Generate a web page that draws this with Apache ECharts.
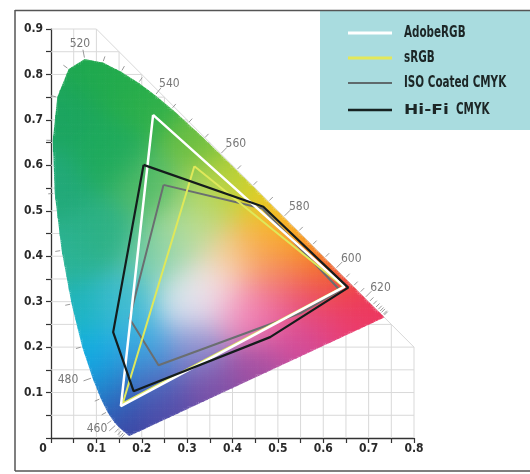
<!DOCTYPE html>
<html><head><meta charset="utf-8">
<script src="https://cdn.jsdelivr.net/npm/echarts@6/dist/echarts.min.js"></script>
<style>html,body{margin:0;padding:0;background:#fff}#c{width:530px;height:474px}</style>
</head><body><div id="c"></div>
<script>
// CIE 1931 spectral locus (wavelength nm, x, y)
const locusNm = [380,385,390,395,400,405,410,415,420,425,430,435,440,445,450,455,460,465,470,475,480,485,490,495,500,505,510,515,520,525,530,535,540,545,550,555,560,565,570,575,580,585,590,595,600,605,610,615,620,625,630,635,640,645,650,655,660,665,670,680,690,700];
const locusX = [0.1741,0.1740,0.1738,0.1736,0.1733,0.1730,0.1726,0.1721,0.1714,0.1703,0.1689,0.1669,0.1644,0.1611,0.1566,0.1510,0.1440,0.1355,0.1241,0.1096,0.0913,0.0687,0.0454,0.0235,0.0082,0.0039,0.0139,0.0389,0.0743,0.1142,0.1547,0.1929,0.2296,0.2658,0.3016,0.3373,0.3731,0.4087,0.4441,0.4788,0.5125,0.5448,0.5752,0.6029,0.6270,0.6482,0.6658,0.6801,0.6915,0.7006,0.7079,0.7140,0.7190,0.7230,0.7260,0.7283,0.7300,0.7311,0.7320,0.7334,0.7344,0.7347];
const locusY = [0.0050,0.0050,0.0049,0.0049,0.0048,0.0048,0.0048,0.0048,0.0051,0.0058,0.0069,0.0086,0.0109,0.0138,0.0177,0.0227,0.0297,0.0399,0.0578,0.0868,0.1327,0.2007,0.2950,0.4127,0.5384,0.6548,0.7502,0.8120,0.8338,0.8262,0.8059,0.7816,0.7543,0.7243,0.6923,0.6589,0.6245,0.5896,0.5547,0.5202,0.4866,0.4544,0.4242,0.3965,0.3725,0.3514,0.3340,0.3197,0.3083,0.2993,0.2920,0.2859,0.2809,0.2770,0.2740,0.2717,0.2700,0.2689,0.2680,0.2666,0.2656,0.2653];
const labelNm = [460,480,520,540,560,580,600,620];
const tickNm = [440,445,450,455,460,465,470,475,480,485,490,495,500,505,510,515,520,525,530,535,540,545,550,555,560,565,570,575,580,585,590,595,600,605,610,615,620,625,630,635,640,645,650,660,670];

// gamuts (x, y), closed
const seriesNames = ['AdobeRGB','sRGB','ISO Coated CMYK','Hi-Fi CMYK'];
const adobeX = [0.225,0.647,0.154,0.225];
const adobeY = [0.711,0.333,0.070,0.711];
const srgbX = [0.316,0.645,0.158,0.316];
const srgbY = [0.598,0.333,0.076,0.598];
const isoX = [0.248,0.466,0.637,0.550,0.237,0.173,0.248];
const isoY = [0.557,0.505,0.325,0.275,0.160,0.263,0.557];
const hifiX = [0.204,0.468,0.655,0.483,0.182,0.137,0.204];
const hifiY = [0.601,0.509,0.331,0.222,0.103,0.233,0.601];

const xTickLabels = ['0','0.1','0.2','0.3','0.4','0.5','0.6','0.7','0.8'];
const yTickLabels = ['','0.1','0.2','0.3','0.4','0.5','0.6','0.7','0.8','0.9'];

// ---- colour field styling ----
const colorAnchors = [
 [0.07,0.83,'#1fa84f'],[0.02,0.72,'#1ca560'],[0.005,0.55,'#22a979'],[0.03,0.40,'#2cb394'],
 [0.05,0.28,'#1fb5bf'],[0.08,0.18,'#12b0e6'],[0.11,0.11,'#1b8fd4'],[0.14,0.05,'#3158b3'],
 [0.175,0.006,'#40409e'],[0.25,0.05,'#5448a6'],[0.35,0.10,'#7a4ea6'],[0.45,0.15,'#a04ea2'],
 [0.55,0.21,'#cf4b9b'],[0.65,0.25,'#e8407f'],[0.73,0.268,'#ec3464'],[0.69,0.30,'#ee3a4e'],
 [0.63,0.36,'#f15a2b'],[0.58,0.41,'#f7901e'],[0.52,0.47,'#fbb51a'],[0.46,0.53,'#e6d31e'],
 [0.40,0.58,'#b3cf33'],[0.33,0.66,'#6cbf43'],[0.23,0.75,'#2fb04b'],[0.15,0.80,'#22ab4d'],
 [0.13,0.62,'#1eaa5c'],[0.12,0.45,'#2cb184'],[0.17,0.30,'#3fbcd0'],[0.20,0.20,'#3aaee6'],
 [0.22,0.12,'#4d6cc0'],[0.32,0.20,'#8b8fd0'],[0.30,0.30,'#dce9f2'],[0.35,0.33,'#f7e6ee'],
 [0.42,0.28,'#f49ac4'],[0.48,0.27,'#ee68a6'],[0.57,0.30,'#ec4870'],[0.50,0.36,'#f3826a'],
 [0.40,0.40,'#f9d09a'],[0.47,0.43,'#f8a843'],[0.30,0.45,'#b9df9f'],[0.24,0.40,'#7fcfa8'],
 [0.22,0.55,'#58bd6a'],[0.35,0.52,'#b5d86a']
];
const anc = colorAnchors.map(a => {
  const h = a[2];
  return [a[0], a[1], parseInt(h.substr(1,2),16), parseInt(h.substr(3,2),16), parseInt(h.substr(5,2),16)];
});
function fieldColor(x, y) {
  let sw = 0, r = 0, g = 0, b = 0;
  const s2 = 2 * 0.05 * 0.05;
  for (const a of anc) {
    const dx = x - a[0], dy = y - a[1];
    const w = Math.exp(-(dx*dx + dy*dy) / s2) + 1e-12;
    sw += w; r += w * a[2]; g += w * a[3]; b += w * a[4];
  }
  return 'rgb(' + Math.round(r/sw) + ',' + Math.round(g/sw) + ',' + Math.round(b/sw) + ')';
}

// convex hull of locus
function hull(pts) {
  pts = pts.slice().sort((a,b) => a[0]-b[0] || a[1]-b[1]);
  const cr = (o,a,b) => (a[0]-o[0])*(b[1]-o[1]) - (a[1]-o[1])*(b[0]-o[0]);
  const lo = [], up = [];
  for (const p of pts) { while (lo.length >= 2 && cr(lo[lo.length-2], lo[lo.length-1], p) <= 0) lo.pop(); lo.push(p); }
  for (let i = pts.length-1; i >= 0; i--) { const p = pts[i]; while (up.length >= 2 && cr(up[up.length-2], up[up.length-1], p) <= 0) up.pop(); up.push(p); }
  up.pop(); lo.pop();
  return lo.concat(up);
}
const H = hull(locusX.map((x,i) => [x, locusY[i]]));
function inside(p) {
  for (let i = 0; i < H.length; i++) {
    const a = H[i], b = H[(i+1) % H.length];
    if ((b[0]-a[0])*(p[1]-a[1]) - (b[1]-a[1])*(p[0]-a[0]) < 0) return false;
  }
  return true;
}
function clipPoly(subject) {
  let out = subject;
  for (let i = 0; i < H.length && out.length; i++) {
    const a = H[i], b = H[(i+1) % H.length];
    const side = p => (b[0]-a[0])*(p[1]-a[1]) - (b[1]-a[1])*(p[0]-a[0]);
    const inp = out; out = [];
    for (let j = 0; j < inp.length; j++) {
      const P = inp[j], Q = inp[(j+1) % inp.length];
      const sp = side(P), sq = side(Q);
      if (sp >= 0) {
        out.push(P);
        if (sq < 0) { const t = sp/(sp-sq); out.push([P[0]+t*(Q[0]-P[0]), P[1]+t*(Q[1]-P[1])]); }
      } else if (sq >= 0) { const t = sp/(sp-sq); out.push([P[0]+t*(Q[0]-P[0]), P[1]+t*(Q[1]-P[1])]); }
    }
  }
  return out;
}
const STEP = 0.005;
const cells = [];
for (let i = 0; i < 150; i++) {
  for (let j = 0; j < 170; j++) {
    const x0 = i*STEP, y0 = j*STEP, x1 = x0+STEP, y1 = y0+STEP;
    const rect = [[x0,y0],[x1,y0],[x1,y1],[x0,y1]];
    let poly, full = false;
    if (rect.every(inside)) { poly = rect; full = true; }
    else { poly = clipPoly(rect); if (poly.length < 3) continue; }
    const cx = Math.max(0.004, Math.min(0.734, x0 + STEP/2)), cy = y0 + STEP/2;
    cells.push({poly, full, x0, y0, x1, y1, col: fieldColor(cx, cy), cx: x0+STEP/2, cy: y0+STEP/2});
  }
}

// light grid (0.05) within region bounded by x+y=1
const gridSegs = [];
for (let k = 1; k <= 16; k++) { const x = k*0.05; gridSegs.push([x, 0, x, Math.min(0.9, 1-x)]); }
for (let k = 1; k <= 18; k++) { const y = k*0.05; gridSegs.push([0, y, Math.min(0.8, 1-y), y]); }
gridSegs.push([0.1, 0.9, 0.8, 0.2]);

const FONT = "'DejaVu Sans Condensed','Liberation Sans Narrow',sans-serif";
const pair = (xs, ys) => xs.map((x,i) => [x, ys[i]]);

// legend (keys drawn as graphic)
const legendColors = ['#ffffff','#e3e85a','#5f6a6c','#172222'];
const legendWidths = [3, 3, 2, 2.5];
const legendRowsY = [33, 58, 83, 110];
const legendGraphics = [];
seriesNames.forEach((n, i) => {
  const y = legendRowsY[i];
  legendGraphics.push({type: 'line', shape: {x1: 348, y1: y, x2: 392, y2: y}, style: {stroke: legendColors[i], lineWidth: legendWidths[i]}, z: 5});
  if (n === 'Hi-Fi CMYK') {
    legendGraphics.push({type: 'text', x: 404, y: y, scaleX: 1.22, z: 5, style: {text: 'Hi-Fi', fill: '#1c2626', fontSize: 14, fontWeight: 'bold', fontFamily: "'DejaVu Sans',sans-serif", verticalAlign: 'middle', align: 'left'}});
    legendGraphics.push({type: 'text', x: 456, y: y, scaleX: 0.77, z: 5, style: {text: 'CMYK', fill: '#1c2626', fontSize: 15, fontWeight: 'bold', fontFamily: FONT, verticalAlign: 'middle', align: 'left'}});
  } else {
    legendGraphics.push({type: 'text', x: 404, y: y, scaleX: 0.77, z: 5, style: {text: n, fill: '#1c2626', fontSize: 15, fontWeight: 'bold', fontFamily: FONT, verticalAlign: 'middle', align: 'left'}});
  }
});

const chart = echarts.init(document.getElementById('c'));
chart.setOption({
  animation: false,
  backgroundColor: '#fff',
  grid: {left: 51, right: 116, top: 29, bottom: 36},
  xAxis: {
    type: 'value', min: 0, max: 0.8, interval: 0.1,
    splitLine: {show: false},
    axisLine: {show: true, onZero: false, lineStyle: {color: '#333', width: 1.3}},
    axisTick: {show: true, length: 5, lineStyle: {color: '#333', width: 1.2}},
    minorTick: {show: true, splitNumber: 2, length: 5, lineStyle: {color: '#333', width: 1.2}},
    axisLabel: {
      margin: 5, color: '#2a2a2a', fontSize: 12, fontWeight: 'bold', fontFamily: FONT,
      formatter: v => { const i = Math.round(v*10); return i === 0 ? '{z|' + xTickLabels[0] + '}' : xTickLabels[i]; },
      rich: {z: {padding: [0, 16, 0, 0], fontSize: 12, fontWeight: 'bold', fontFamily: FONT, color: '#2a2a2a'}}
    }
  },
  yAxis: {
    type: 'value', min: 0, max: 0.9, interval: 0.1,
    splitLine: {show: false},
    axisLine: {show: true, onZero: false, lineStyle: {color: '#333', width: 1.3}},
    axisTick: {show: true, length: 5, lineStyle: {color: '#333', width: 1.2}},
    minorTick: {show: true, splitNumber: 2, length: 5, lineStyle: {color: '#333', width: 1.2}},
    axisLabel: {
      margin: 8, color: '#2a2a2a', fontSize: 12, fontWeight: 'bold', fontFamily: FONT,
      formatter: v => yTickLabels[Math.round(v*10)]
    }
  },
  graphic: [
    {type: 'rect', left: 320, top: 11, shape: {width: 210, height: 119}, style: {fill: '#a9dcdf'}, z: 0, silent: true},
    {type: 'line', shape: {x1: 15, y1: 10.5, x2: 530, y2: 10.5}, style: {stroke: '#555', lineWidth: 1.5}, z: 0},
    {type: 'line', shape: {x1: 15, y1: 10, x2: 15, y2: 471}, style: {stroke: '#555', lineWidth: 1.5}, z: 0},
    {type: 'line', shape: {x1: 15, y1: 471, x2: 530, y2: 471}, style: {stroke: '#555', lineWidth: 1.5}, z: 0}
  ].concat(legendGraphics),
  series: [
    {
      type: 'custom', name: 'grid', z: 1, silent: true,
      data: gridSegs,
      renderItem: (params, api) => {
        const a = api.coord([api.value(0), api.value(1)]), b = api.coord([api.value(2), api.value(3)]);
        return {type: 'line', shape: {x1: a[0], y1: a[1], x2: b[0], y2: b[1]}, style: {stroke: '#d9d9d9', lineWidth: 1}};
      }
    },
    {
      type: 'custom', name: 'field', z: 2, silent: true,
      data: cells.map(c => [c.cx, c.cy]),
      renderItem: (params, api) => {
        const c = cells[params.dataIndex];
        if (c.full) {
          const a = api.coord([c.x0, c.y1]), b = api.coord([c.x1, c.y0]);
          return {type: 'rect', shape: {x: a[0]-0.35, y: a[1]-0.35, width: b[0]-a[0]+0.7, height: b[1]-a[1]+0.7}, style: {fill: c.col}};
        }
        return {type: 'polygon', shape: {points: c.poly.map(p => api.coord(p))}, style: {fill: c.col}};
      }
    },
    {
      type: 'custom', name: 'wl', z: 3, silent: true,
      data: tickNm.map(n => { const k = locusNm.indexOf(n); return [locusX[k], locusY[k], n]; }),
      renderItem: (params, api) => {
        const nm = tickNm[params.dataIndex];
        const k = locusNm.indexOf(nm);
        const p = api.coord([locusX[k], locusY[k]]);
        const a = api.coord([locusX[k-1], locusY[k-1]]);
        const b = api.coord([locusX[Math.min(k+1, locusX.length-1)], locusY[Math.min(k+1, locusX.length-1)]]);
        const tx = b[0]-a[0], ty = b[1]-a[1], L = Math.hypot(tx, ty);
        const nx = ty/L, ny = -tx/L;
        const lab = labelNm.indexOf(nm) >= 0;
        const len = lab ? 8 : 5;
        const ch = [{type: 'line', shape: {x1: p[0]+nx*1.5, y1: p[1]+ny*1.5, x2: p[0]+nx*(1.5+len), y2: p[1]+ny*(1.5+len)}, style: {stroke: '#9a9a9a', lineWidth: 1}}];
        if (lab) {
          let lx, ly;
          if (ny < -0.9) { lx = p[0] + nx*15 - 2; ly = p[1] + ny*15; }
          else if (nx < -0.5) { lx = p[0] + nx*26; ly = p[1] + ny*26*0.25; }
          else { lx = p[0] + nx*18 + 3; ly = p[1] + ny*18 + 2.5; }
          ch.push({type: 'text', x: lx, y: ly, style: {text: String(nm), fill: '#777', fontSize: 12, fontFamily: FONT, align: 'center', verticalAlign: 'middle'}});
        }
        return {type: 'group', children: ch};
      }
    },
    {type: 'line', name: 'ISO Coated CMYK', z: 5, data: pair(isoX, isoY), symbol: 'none', itemStyle: {color: '#6a6e70'}, lineStyle: {color: '#6a6e70', width: 2}},
    {type: 'line', name: 'sRGB', z: 6, data: pair(srgbX, srgbY), symbol: 'none', itemStyle: {color: '#dfe85a'}, lineStyle: {color: '#dfe85a', width: 2}},
    {type: 'line', name: 'AdobeRGB', z: 7, data: pair(adobeX, adobeY), symbol: 'none', itemStyle: {color: '#ffffff'}, lineStyle: {color: '#ffffff', width: 2.5}},
    {type: 'line', name: 'Hi-Fi CMYK', z: 8, data: pair(hifiX, hifiY), symbol: 'none', itemStyle: {color: '#141c1c'}, lineStyle: {color: '#141c1c', width: 2.2}}
  ]
});
</script></body></html>
